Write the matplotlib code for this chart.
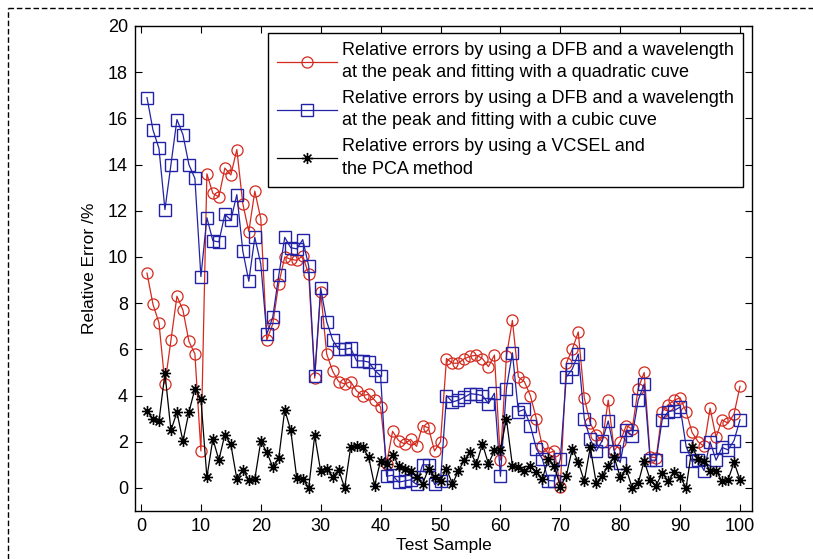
import matplotlib
matplotlib.use("Agg")
import matplotlib.pyplot as plt
from matplotlib.lines import Line2D
from matplotlib.path import Path

plt.rcParams['font.family'] = ['Liberation Sans', 'DejaVu Sans']

samples = list(range(1, 101))

red_quadratic = [
    9.3, 7.95, 7.15, 4.5, 6.4, 8.3, 7.7, 6.35, 5.8, 1.6,
    13.6, 12.75, 12.6, 13.85, 13.55, 14.65, 12.3, 11.1, 12.85, 11.65,
    6.4, 7.1, 8.85, 10.0, 9.9, 9.85, 10.05, 9.25, 4.75, 8.5,
    5.8, 5.05, 4.6, 4.5, 4.6, 4.2, 4.0, 4.05, 3.8, 3.5,
    1.05, 2.45, 2.05, 1.9, 2.1, 1.8, 2.7, 2.6, 1.6, 2.0,
    5.6, 5.4, 5.4, 5.6, 5.7, 5.75, 5.6, 5.25, 5.75, 1.2,
    5.7, 7.25, 4.8, 4.6, 4.0, 3.0, 1.8, 1.5, 1.6, 0.05,
    5.4, 6.0, 6.75, 3.9, 2.8, 2.3, 2.0, 3.8, 1.6, 2.0,
    2.7, 2.55, 4.3, 5.0, 1.35, 1.3, 3.3, 3.6, 3.8, 3.9,
    3.3, 2.4, 2.0, 1.8, 3.45, 2.2, 2.95, 2.8, 3.2, 4.4,
]

blue_cubic = [
    16.9, 15.5, 14.7, 12.05, 14.0, 15.95, 15.3, 14.0, 13.4, 9.15,
    11.7, 10.7, 10.65, 11.85, 11.6, 12.7, 10.25, 8.95, 10.85, 9.7,
    6.65, 7.4, 9.2, 10.85, 10.4, 10.35, 10.75, 9.6, 4.85, 8.65,
    7.2, 6.4, 6.0, 6.0, 6.05, 5.5, 5.5, 5.45, 5.1, 4.85,
    0.5, 0.55, 0.25, 0.3, 0.35, 0.15, 1.0, 1.0, 0.15, 0.3,
    4.0, 3.72, 3.8, 3.93, 4.08, 4.05, 4.0, 3.65, 4.1, 0.5,
    4.3, 5.85, 3.3, 3.4, 2.7, 1.7, 1.25, 0.32, 0.3, 1.25,
    4.8, 5.15, 5.8, 3.0, 2.1, 1.6, 2.05, 2.9, 1.6, 1.1,
    2.5, 2.25, 3.8, 4.5, 1.2, 1.2, 2.95, 3.3, 3.35, 3.5,
    1.8, 1.15, 1.2, 0.75, 2.0, 1.2, 1.75, 1.65, 2.05, 2.95,
]

black_vcsel = [
    3.32, 2.99, 2.89, 4.97, 2.49, 3.28, 2.02, 3.28, 4.29, 3.86,
    0.46, 2.12, 1.21, 2.31, 1.88, 0.39, 0.78, 0.35, 0.39, 2.02,
    1.55, 0.9, 1.3, 3.38, 2.49, 0.43, 0.39, 0.0, 2.27, 0.72,
    0.82, 0.49, 0.78, 0.0, 1.76, 1.83, 1.76, 1.33, 0.1, 1.18,
    1.04, 1.44, 0.97, 0.82, 0.75, 0.46, 0.17, 0.82, 0.46, 0.32,
    0.82, 0.17, 0.75, 1.21, 1.54, 1.04, 1.91, 1.04, 1.62, 1.65,
    2.99, 0.97, 0.9, 0.72, 0.97, 0.68, 0.39, 1.26, 0.93, 0.06,
    0.53, 1.69, 1.11, 0.29, 1.76, 0.2, 0.53, 0.97, 1.33, 0.46,
    0.82, 0.0, 0.2, 1.18, 0.35, 0.1, 0.64, 0.29, 0.68, 0.49,
    0.0, 1.76, 1.26, 1.18, 0.75, 0.75, 0.29, 0.35, 1.11, 0.35,
]

labels = [
    "Relative errors by using a DFB and a wavelength\nat the peak and fitting with a quadratic cuve",
    "Relative errors by using a DFB and a wavelength\nat the peak and fitting with a cubic cuve",
    "Relative errors by using a VCSEL and\nthe PCA method",
]

x_ticks = list(range(0, 101, 10))
y_ticks = list(range(0, 21, 2))

# MATLAB-like asterisk marker (8 spokes)
d = 0.7071
asterisk = Path(
    [(-1, 0), (1, 0), (0, -1), (0, 1), (-d, -d), (d, d), (-d, d), (d, -d)],
    [Path.MOVETO, Path.LINETO] * 4,
)

fs = 12.5
lfs = 13
fig = plt.figure(figsize=(8.13, 5.59), dpi=100)
ax = fig.add_axes([135/813, 1 - 511/559, (752 - 135)/813, (511 - 26)/559])

red_c = '#d42a1e'
blue_c = '#2222a6'
ax.plot(samples, red_quadratic, '-o', color=red_c, mfc='none', mec=red_c,
        ms=8, lw=0.9, mew=0.9, label=labels[0])
ax.plot(samples, blue_cubic, '-s', color=blue_c, mfc='none', mec=blue_c,
        ms=8.5, lw=0.9, mew=1.0, label=labels[1])
ax.plot(samples, black_vcsel, '-', color='black', marker=asterisk,
        mfc='black', mec='black', ms=8, lw=0.9, mew=1.2, label=labels[2])

ax.set_xlim(-1, 102)
ax.set_ylim(-1, 20)
ax.set_xticks(x_ticks)
ax.set_yticks(y_ticks)
ax.tick_params(direction='in', top=True, right=True, length=5, width=0.8,
               labelsize=13, pad=5)
for s in ax.spines.values():
    s.set_linewidth(1.0)

ax.set_xlabel("Test Sample", fontsize=fs, labelpad=2)
ax.set_ylabel("Relative Error /%", fontsize=fs, labelpad=8)

leg = ax.legend(loc='upper right', bbox_to_anchor=(743/813, 1 - 33/559),
                bbox_transform=fig.transFigure, fontsize=lfs,
                fancybox=False, framealpha=1, edgecolor='black',
                handlelength=3.3, handletextpad=0.3, borderpad=0.5,
                labelspacing=0.5, borderaxespad=0)
leg.get_frame().set_linewidth(1.0)
for t in leg.get_texts():
    t.set_linespacing(1.4)

# dashed figure border (top and left visible)
fig.add_artist(Line2D([8/813, 1.0], [1 - 8/559, 1 - 8/559], transform=fig.transFigure,
                      color='black', lw=1.0, ls=(0, (4, 2))))
fig.add_artist(Line2D([8/813, 8/813], [0.0, 1 - 8/559], transform=fig.transFigure,
                      color='black', lw=1.0, ls=(0, (4, 2))))

fig.savefig("out.png", dpi=100)
